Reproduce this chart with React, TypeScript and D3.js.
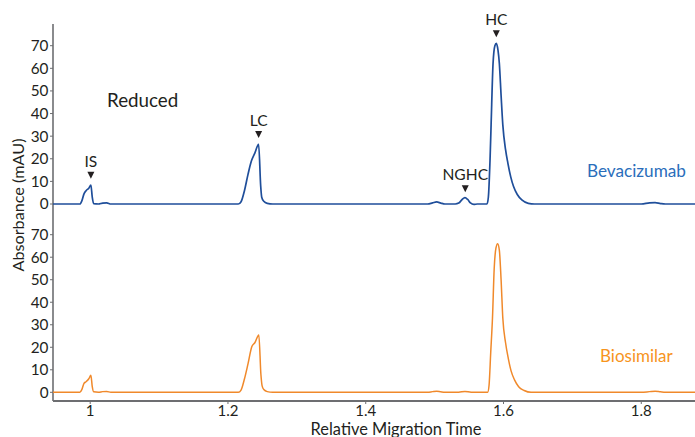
import React from 'react';
import * as d3 from 'd3';

// relative migration time / absorbance (mAU)
const bevaTime = [0.946, 0.985, 0.988, 0.991, 0.994, 0.998, 1.001, 1.003, 1.005, 1.012, 1.018, 1.024, 1.03,
  1.215, 1.219, 1.224, 1.229, 1.234, 1.239, 1.2445, 1.2475, 1.249, 1.252, 1.257, 1.265,
  1.49, 1.497, 1.503, 1.509, 1.515, 1.53, 1.535, 1.54, 1.544, 1.548, 1.552, 1.557, 1.562,
  1.576, 1.578, 1.5805, 1.582, 1.5848, 1.5875, 1.5896, 1.592, 1.594, 1.5965, 1.599, 1.603, 1.6064, 1.6105, 1.6146, 1.62, 1.6266, 1.636, 1.645,
  1.8, 1.812, 1.82, 1.828, 1.835, 1.878];
const bevaAbs = [0, 0, 1.5, 4.5, 5.9, 7.0, 8.4, 3, 0.2, 0, 0.4, 0.5, 0,
  0, 1, 6, 13, 19, 22.5, 26.4, 8, 3, 1.2, 0.3, 0,
  0, 0.5, 0.9, 0.4, 0, 0, 0.4, 2.0, 2.8, 2.0, 0.5, -0.2, 0,
  0, 3, 20, 35, 62, 70, 71, 68, 62, 48, 35, 24, 18, 12, 7.7, 4.2, 1.8, 0.3, 0,
  0, 0.5, 0.6, 0.2, 0, 0];

const bioTime = [0.946, 0.985, 0.988, 0.991, 0.994, 0.998, 1.001, 1.003, 1.005, 1.012, 1.018, 1.024, 1.03,
  1.215, 1.219, 1.224, 1.229, 1.2347, 1.239, 1.2448, 1.2478, 1.2495, 1.252, 1.257, 1.265,
  1.49, 1.497, 1.503, 1.509, 1.515, 1.535, 1.544, 1.553,
  1.577, 1.579, 1.5815, 1.584, 1.5865, 1.589, 1.5915, 1.594, 1.5965, 1.599, 1.603, 1.607, 1.611, 1.616, 1.622, 1.63, 1.64,
  1.8, 1.812, 1.82, 1.828, 1.835, 1.878];
const bioAbs = [0, 0, 1.3, 4.0, 4.7, 6.0, 7.6, 2.5, 0.2, 0, 0.3, 0.4, 0,
  0, 1, 6, 12.5, 20.3, 22, 25.5, 8, 3, 1.2, 0.3, 0,
  0, 0.3, 0.5, 0.2, 0, 0, 0.4, 0,
  0, 3, 18, 33, 55, 64, 66, 63, 50, 33, 22, 15, 9.5, 5.5, 2.5, 0.8, 0,
  0, 0.3, 0.5, 0.2, 0, 0];

const xTicks = [1, 1.2, 1.4, 1.6, 1.8];
const yTicks = [0, 10, 20, 30, 40, 50, 60, 70];

// peak annotations on the top trace: label, time, label baseline y-value (mAU)
const peakNames = ['IS', 'LC', 'NGHC', 'HC'];
const peakTimes = [1.001, 1.2445, 1.5445, 1.5896];
const peakLabelAt = [16.5, 34.5, 10.5, 79];

const BLUE = '#1f4e9a';
const ORANGE = '#f0892b';
const FONT = 'Lato, "Open Sans", sans-serif';

const App = () => {
  const width = 695;
  const height = 437;

  const x = d3.scaleLinear().domain([0.946, 1.878]).range([53, 695]);
  const yTop = d3.scaleLinear().domain([0, 70]).range([204, 45.7]);
  const yBot = d3.scaleLinear().domain([0, 70]).range([392.3, 234.7]);

  const lineTop = d3.line<number>()
    .x((d, i) => x(bevaTime[i]))
    .y(d => yTop(d))
    .curve(d3.curveMonotoneX);
  const lineBot = d3.line<number>()
    .x((d, i) => x(bioTime[i]))
    .y(d => yBot(d))
    .curve(d3.curveMonotoneX);

  const axisX = 53;
  const axisBottom = 401;

  return (
    <svg width={width} height={height} style={{ position: 'absolute', left: 0, top: 0 }} fontFamily={FONT}>
      <rect width={width} height={height} fill="#fff" />

      {/* y axis shared by both panels */}
      <line x1={axisX} x2={axisX} y1={24} y2={axisBottom} stroke="#6d6e71" strokeWidth={1.6} />
      <line x1={axisX} x2={width} y1={axisBottom} y2={axisBottom} stroke="#6d6e71" strokeWidth={2} />

      {[yTop, yBot].map((y, k) => (
        <g key={k}>
          {yTicks.map(t => (
            <g key={t}>
              <line x1={axisX - 3} x2={axisX} y1={y(t)} y2={y(t)} stroke="#6d6e71" strokeWidth={1} />
              <text x={axisX - 4.5} y={y(t) + 5.4} textAnchor="end" fontSize={15.3} fill="#231f20">{t}</text>
            </g>
          ))}
        </g>
      ))}

      {xTicks.map(t => (
        <g key={t}>
          <line x1={x(t)} x2={x(t)} y1={axisBottom} y2={axisBottom + 3} stroke="#6d6e71" strokeWidth={1} />
          <text x={x(t)} y={415.5} textAnchor="middle" fontSize={15} fill="#231f20">{t}</text>
        </g>
      ))}

      <text x={396} y={434.5} textAnchor="middle" fontSize={16.4} fill="#231f20">Relative Migration Time</text>
      <text transform="translate(24,205) rotate(-90)" textAnchor="middle" fontSize={16.2} fill="#231f20">Absorbance (mAU)</text>

      <path d={lineTop(bevaAbs) || ''} fill="none" stroke={BLUE} strokeWidth={1.7} strokeLinejoin="round" />
      <path d={lineBot(bioAbs) || ''} fill="none" stroke={ORANGE} strokeWidth={1.5} strokeLinejoin="round" />

      {peakNames.map((name, i) => {
        const px = x(peakTimes[i]);
        const ly = yTop(peakLabelAt[i]);
        return (
          <g key={name}>
            <text x={px} y={ly} textAnchor="middle" fontSize={15.6} fill="#231f20">{name}</text>
            <path d={`M${px - 3.5},${ly + 5} L${px + 3.5},${ly + 5} L${px},${ly + 12} Z`} fill="#231f20" />
          </g>
        );
      })}

      <text x={107} y={107} fontSize={18.8} fill="#231f20">Reduced</text>
      <text x={686} y={176.7} textAnchor="end" fontSize={17.2} fill="#2a6ebb">Bevacizumab</text>
      <text x={672.7} y={361.7} textAnchor="end" fontSize={17} fill="#f7941d">Biosimilar</text>
    </svg>
  );
};

export default App;
